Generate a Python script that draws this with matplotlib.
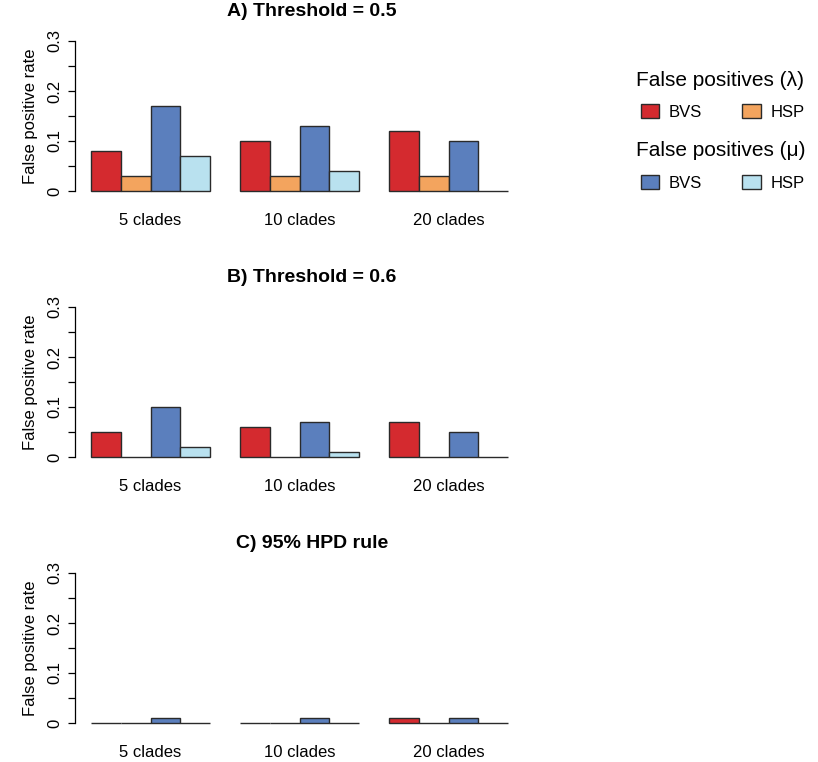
import numpy as np
import matplotlib
matplotlib.use("Agg")
import matplotlib.pyplot as plt
from matplotlib.patches import Patch

plt.rcParams['font.family'] = ['Liberation Sans', 'DejaVu Sans']

groups = ["5 clades", "10 clades", "20 clades"]
series = ["BVS (lambda)", "HSP (lambda)", "BVS (mu)", "HSP (mu)"]
colors = ["#D42A2F", "#F3A45E", "#5B7FBD", "#B9E1EF"]

titles = ["A) Threshold = 0.5", "B) Threshold = 0.6", "C) 95% HPD rule"]

# rows: BVS-lambda, HSP-lambda, BVS-mu, HSP-mu ; columns: 5, 10, 20 clades
panel_a = [[0.08, 0.10, 0.12],
           [0.03, 0.03, 0.03],
           [0.17, 0.13, 0.10],
           [0.07, 0.04, 0.00]]
panel_b = [[0.05, 0.06, 0.07],
           [0.00, 0.00, 0.00],
           [0.10, 0.07, 0.05],
           [0.02, 0.01, 0.00]]
panel_c = [[0.00, 0.00, 0.01],
           [0.00, 0.00, 0.00],
           [0.01, 0.01, 0.01],
           [0.00, 0.00, 0.00]]
panels = [panel_a, panel_b, panel_c]

W, H = 818, 762
fig = plt.figure(figsize=(W / 100, H / 100), dpi=100)

# pixel layout: (bottom of 0-line, top of 0.3-line)
rows_px = [(191, 41), (457, 307), (723, 573)]
ax_left, ax_right = 75, 525
bar_w_px = 29.8
offset = (91 - ax_left) / bar_w_px
span = (ax_right - ax_left) / bar_w_px

for vals, title, (b, t) in zip(panels, titles, rows_px):
    ax = fig.add_axes([ax_left / W, (H - b) / H, (ax_right - ax_left) / W, (b - t) / H])
    for s, (row, col) in enumerate(zip(vals, colors)):
        x = np.arange(len(groups)) * 5 + s
        ax.bar(x, row, width=1.0, align='edge', color=col,
               edgecolor="#2a2a2a", linewidth=1.0, clip_on=False)
    ax.set_xlim(-offset, span - offset)
    ax.set_ylim(0, 0.3)
    for sp in ["top", "right", "bottom"]:
        ax.spines[sp].set_visible(False)
    ax.spines["left"].set_bounds(0, 0.3)
    ax.spines["left"].set_linewidth(0.9)
    ax.set_yticks(np.arange(0, 0.31, 0.05))
    ax.set_yticklabels(["0", "", "0.1", "", "0.2", "", "0.3"], rotation=90, va="center")
    ax.tick_params(axis="y", length=5, width=0.9, labelsize=12, pad=4)
    ax.set_xticks(np.arange(len(groups)) * 5 + 2)
    ax.set_xticklabels(groups)
    ax.tick_params(axis="x", length=0, labelsize=12, pad=16)
    ax.set_ylabel("False positive rate", fontsize=12, labelpad=7)
    ax.text((312 - ax_left) / (ax_right - ax_left), 1 + 29 / (b - t), title,
            transform=ax.transAxes, ha="center", va="center",
            fontsize=14, fontweight="bold")

# legends
leg_titles = ["False positives (\u03bb)", "False positives (\u03bc)"]
leg_rows = [(80, 112, colors[0:2]), (150, 183, colors[2:4])]
for lt, (ty, ey, cols) in zip(leg_titles, leg_rows):
    fig.text(636 / W, 1 - ty / H, lt, fontsize=15, ha="left", va="center")
    handles = [Patch(facecolor=c, edgecolor="#2a2a2a", linewidth=1.0) for c in cols]
    fig.legend(handles, ["BVS", "HSP"], ncol=2, frameon=False,
               loc="center left", bbox_to_anchor=(634 / W, 1 - ey / H),
               fontsize=12, handlelength=1.1, handleheight=0.9,
               handletextpad=0.6, columnspacing=2.4, borderaxespad=0)

fig.savefig("out.png", dpi=100)
